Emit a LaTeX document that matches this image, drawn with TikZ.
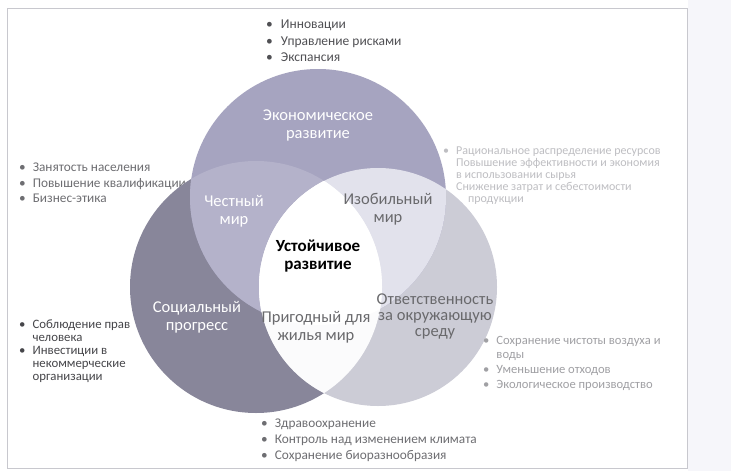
\documentclass[tikz,border=0pt]{standalone}
\usepackage{fontspec}
\setmainfont{Carlito}
\definecolor{ctop}{RGB}{166,164,192}
\definecolor{cleft}{RGB}{136,134,154}
\definecolor{cright}{RGB}{204,204,214}
\definecolor{ctl}{RGB}{180,178,202}
\definecolor{ctr}{RGB}{226,226,236}
\definecolor{clr}{RGB}{251,251,252}
\definecolor{graylbl}{RGB}{105,105,108}
\definecolor{frame}{RGB}{200,200,206}
\definecolor{strip}{RGB}{246,246,250}
\definecolor{txA}{RGB}{80,80,84}
\definecolor{txB}{RGB}{110,110,114}
\definecolor{txC}{RGB}{70,70,74}
\definecolor{txD}{RGB}{190,190,194}
\definecolor{txE}{RGB}{160,160,164}
\tikzset{
  lbl/.style={align=center, inner sep=0pt, font=\fontsize{16.5}{18}\selectfont},
  whitelbl/.style={lbl, text=white},
  graylabel/.style={lbl, text=graylbl},
  blist/.style={anchor=base west, inner sep=0pt},
}
\newcommand{\bl}{\textbullet}
\begin{document}
\begin{tikzpicture}[x=1pt,y=-1pt]
\useasboundingbox (0,0) rectangle (731,471);
\fill[white] (0,0) rectangle (731,471);
\fill[strip] (688,0) rectangle (731,471);
\draw[frame, line width=0.8pt] (7,8) rectangle (687,468);

% bullet lists (drawn first, circles may cover their ends)
\node[blist, text=txA] (ltop) at (266,28.5) {\fontsize{13.5}{16.5}\selectfont
  \begin{tabular}[t]{@{}l@{\hspace{8pt}}l@{}}
  \bl & Инновации\\ \bl & Управление рисками\\ \bl & Экспансия
  \end{tabular}};
\node[blist, text=txB] (lleft1) at (19,171.5) {\fontsize{13.3}{15.5}\selectfont
  \begin{tabular}[t]{@{}l@{\hspace{7pt}}l@{}}
  \bl & Занятость населения\\ \bl & Повышение квалификации\\ \bl & Бизнес-этика
  \end{tabular}};
\node[blist, text=txC] (lleft2) at (19,328) {\fontsize{12.8}{13.2}\selectfont
  \begin{tabular}[t]{@{}l@{\hspace{7pt}}l@{}}
  \bl & Соблюдение прав\\ & человека\\ \bl & Инвестиции в\\ & некоммерческие\\ & организации
  \end{tabular}};
\node[blist, text=txB] (lbottom) at (261,427.5) {\fontsize{13.3}{16}\selectfont
  \begin{tabular}[t]{@{}l@{\hspace{7pt}}l@{}}
  \bl & Здравоохранение\\ \bl & Контроль над изменением климата\\ \bl & Сохранение биоразнообразия
  \end{tabular}};
\node[blist, text=txD] (lright1) at (443,154) {\fontsize{12}{12.2}\selectfont
  \begin{tabular}[t]{@{}l@{\hspace{7pt}}l@{}}
  \bl & Рациональное распределение ресурсов\\ & Повышение эффективности и экономия\\ & в использовании сырья\\ & Снижение затрат и себестоимости\\ & \quad продукции
  \end{tabular}};

% circles
\coordinate (ct) at (318,197);
\coordinate (cl) at (256,287);
\coordinate (cr) at (378,287);
\def\rt{128}\def\rl{126}\def\rr{119}
\fill[cleft] (cl) circle[radius=\rl];
\fill[cright] (cr) circle[radius=\rr];
\fill[ctop] (ct) circle[radius=\rt];
\begin{scope}
  \clip (ct) circle[radius=\rt];
  \fill[ctl] (cl) circle[radius=\rl];
  \fill[ctr] (cr) circle[radius=\rr];
\end{scope}
\begin{scope}
  \clip (cl) circle[radius=\rl];
  \fill[clr] (cr) circle[radius=\rr];
  \clip (cr) circle[radius=\rr];
  \fill[white] (ct) circle[radius=\rt];
\end{scope}

\node[blist, text=txE] (lright2) at (483,344) {\fontsize{12.6}{14.8}\selectfont
  \begin{tabular}[t]{@{}l@{\hspace{7pt}}l@{}}
  \bl & Сохранение чистоты воздуха и\\ & воды\\ \bl & Уменьшение отходов\\ \bl & Экологическое производство
  \end{tabular}};

% labels
\node[whitelbl] (econ) at (318,125.5) {Экономическое\\развитие};
\node[whitelbl] (honest) at (234,211) {Честный\\мир};
\node[graylabel] (rich) at (388,209) {Изобильный\\мир};
\node[lbl, text=black, font=\bfseries\fontsize{17}{18.5}\selectfont] (sust) at (318,256) {Устойчивое\\развитие};
\node[whitelbl] (social) at (197,317) {Социальный\\прогресс};
\node[graylabel] (livable) at (316,327) {Пригодный для\\жилья мир};
\node[graylabel, font=\fontsize{16.5}{16}\selectfont] (env) at (435,316) {Ответственность\\за окружающую\\среду};
\end{tikzpicture}
\end{document}
